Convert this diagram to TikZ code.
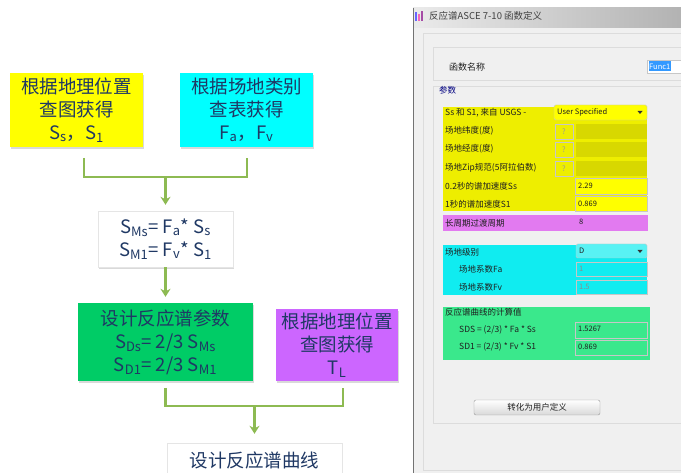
\documentclass[tikz,border=0pt]{standalone}
\usepackage{fontspec}
\setmainfont{Noto Sans CJK SC}
\usepackage{tikz}
\usetikzlibrary{positioning, arrows.meta, shadows}

\definecolor{navy}{RGB}{31,56,100}
\definecolor{linkgreen}{RGB}{141,186,82}
\definecolor{boxyellow}{RGB}{255,255,0}
\definecolor{boxcyan}{RGB}{0,255,255}
\definecolor{boxgreen}{RGB}{0,204,102}
\definecolor{boxpurple}{RGB}{204,102,255}
\definecolor{winbg}{RGB}{240,240,240}
\definecolor{winline}{RGB}{220,220,220}
\definecolor{panyellow}{RGB}{238,238,0}
\definecolor{fldyellow}{RGB}{216,216,0}
\definecolor{panpink}{RGB}{226,122,240}
\definecolor{pancyan}{RGB}{16,236,240}
\definecolor{pangreen}{RGB}{58,232,140}
\definecolor{selblue}{RGB}{51,153,255}

\begin{document}
\begin{tikzpicture}[
        x=1pt, y=-1pt,
        box/.style = {minimum width=133pt, minimum height=74pt, inner sep=2pt, align=center,
                      text=navy, font=\fontsize{18.5}{23}\selectfont,
                      drop shadow={shadow xshift=1.2pt, shadow yshift=-1.6pt, opacity=0.3}},
        link/.style = {draw=linkgreen, line width=2.4pt},
        flow/.style = {link, -{Stealth[length=8pt, width=10pt]}},
        dlgtext/.style = {anchor=west, inner sep=0pt, text=black!88, font=\fontsize{8.5}{9}\selectfont},
        valtext/.style = {dlgtext, font=\fontsize{7.5}{8}\selectfont},
        entry/.style = {draw=black!22, line width=0.4pt},
    ]
    \useasboundingbox (0,0) rectangle (681,473);

    % Flow chart boxes
    \node[box, fill=boxyellow] (ss) at (76.5,110) {根据地理位置\\查图获得\\S\textsubscript{s}，S\textsubscript{1}};
    \node[box, fill=boxcyan] (fa) at (246.5,110) {根据场地类别\\查表获得\\F\textsubscript{a}，F\textsubscript{v}};
    \node[box, fill=white, draw=black!10, minimum width=135pt, minimum height=56pt] (sm) at (165.5,239)
        {S\textsubscript{Ms}= F\textsubscript{a}* S\textsubscript{s}\\S\textsubscript{M1}= F\textsubscript{v}* S\textsubscript{1}};
    \node[box, fill=boxgreen, minimum width=175pt, minimum height=78pt] (sd) at (165.5,342)
        {设计反应谱参数\\S\textsubscript{Ds}= 2/3 S\textsubscript{Ms}\\S\textsubscript{D1}= 2/3 S\textsubscript{M1}};
    \node[box, fill=boxpurple, minimum width=122pt, minimum height=72pt] (tl) at (337,345) {根据地理位置\\查图获得\\T\textsubscript{L}};
    \node[box, fill=white, draw=black!10, minimum width=175pt, minimum height=34pt] (curve) at (254.5,460) {设计反应谱曲线};

    % Connectors
    \coordinate (ssout) at (84,158);
    \coordinate (faout) at (247,158);
    \coordinate (join1) at (165.5,177);
    \draw[link] (ssout) |- (join1) -| (faout);
    \draw[flow, shorten >=6pt] (join1) -- (sm.north);
    \draw[flow, shorten >=6pt] (sm.south) -- (sd.north);
    \coordinate (sdout) at (165.5,388);
    \coordinate (tlout) at (343,388);
    \coordinate (join2) at (254.5,406);
    \draw[link] (sdout) |- (join2) -| (tlout);
    \draw[flow, shorten >=9pt] (join2) -- (curve.north);

    % Dialog window frame
    \fill[winbg] (413,8) rectangle (681,473);
    \shade[left color=black!8, right color=black!30] (413,8) rectangle (681,28);
    \draw[black!55, line width=1.5pt] (413.5,8) -- (413.5,473);
    \draw[winline] (423,33) rectangle (690,470);
    \draw[winline] (433,47) rectangle (690,80);
    \draw[winline] (433,86) rectangle (690,423);
    \fill[blue!60] (415,12) rectangle (417,21);
    \fill[magenta!60] (418,14) rectangle (420,21);
    \fill[violet!70] (421,11) rectangle (423,21);
    \node[dlgtext, font=\fontsize{9.5}{10}\selectfont, text=black!75] (title) at (429,16) {反应谱ASCE 7-10 函数定义};

    % Function name
    \node[dlgtext, font=\fontsize{9}{10}\selectfont] (fname) at (449,67) {函数名称};
    \draw[entry, fill=white] (647,60) rectangle (690,73);
    \fill[selblue] (648.5,61.5) rectangle (671,71.5);
    \node[valtext, text=white] (func) at (649,66.5) {Func1};
    \node[dlgtext, text=blue!50!black] (param) at (439,90) {参数};

    % Spectral accelerations (yellow)
    \fill[panyellow] (443,107) rectangle (647,211);
    \draw[entry, fill=boxyellow, rounded corners=1.5pt] (554,105) rectangle (647,120);
    \node[valtext] (usgsv) at (557,112.5) {User Specified};
    \fill[black!80] (637.5,111) -- (642.5,111) -- (640,114) -- cycle;
    \foreach \y in {124,142,161} {
        \draw[entry, fill=panyellow] (555,\y) rectangle (573,\y+15);
        \node[valtext, text=black!40] (q\y) at (562,\y+7.5) {?};
        \fill[fldyellow] (576,\y) rectangle (647,\y+15);
    }
    \node[dlgtext] (usgs) at (445,113) {Ss 和 S1, 来自 USGS -};
    \node[dlgtext] (lat) at (445,131) {场地纬度(度)};
    \node[dlgtext] (lon) at (445,149) {场地经度(度)};
    \node[dlgtext] (zip) at (445,168) {场地Zip规范(5阿拉伯数)};
    \node[dlgtext] (ssl) at (445,186) {0.2秒的谱加速度Ss};
    \node[dlgtext] (s1l) at (445,204) {1秒的谱加速度S1};
    \draw[entry, fill=boxyellow] (575,178) rectangle (647,194);
    \draw[entry, fill=boxyellow] (575,196) rectangle (647,211);
    \node[valtext] (ssv) at (578,186) {2.29};
    \node[valtext] (s1v) at (578,204) {0.869};

    % Long period (magenta)
    \fill[panpink] (443,215) rectangle (648,231);
    \node[dlgtext] (tll) at (445,223) {长周期过渡周期};
    \node[valtext] (tlv) at (579,222) {8};

    % Site class (cyan)
    \fill[pancyan] (443,245) rectangle (647,295);
    \draw[entry, fill=pancyan!70!white, rounded corners=1.5pt] (576,244) rectangle (647,258);
    \node[dlgtext] (site) at (445,252) {场地级别};
    \node[valtext] (sitev) at (579,251) {D};
    \fill[black!80] (637.5,250) -- (642.5,250) -- (640,253) -- cycle;
    \draw[entry, fill=pancyan] (576,262) rectangle (647,276);
    \draw[entry, fill=pancyan] (576,280) rectangle (647,294);
    \node[dlgtext] (fal) at (459,269) {场地系数Fa};
    \node[dlgtext] (fvl) at (459,287) {场地系数Fv};
    \node[valtext, text=black!45] (fav) at (579,269) {1};
    \node[valtext, text=black!45] (fvv) at (579,287) {1.5};

    % Design values (green)
    \fill[pangreen] (443,307) rectangle (650,360);
    \draw[entry, fill=pangreen] (575,322) rectangle (647,338);
    \draw[entry, fill=pangreen] (575,340) rectangle (647,355);
    \node[dlgtext] (calc) at (445,312) {反应谱曲线的计算值};
    \node[dlgtext] (sdsl) at (459,330) {SDS = (2/3) * Fa * Ss};
    \node[dlgtext] (sd1l) at (459,347) {SD1 = (2/3) * Fv * S1};
    \node[valtext] (sdsv) at (578,329) {1.5267};
    \node[valtext] (sd1v) at (578,347) {0.869};

    % Button
    \shadedraw[top color=white, bottom color=black!15, draw=black!40, rounded corners=2pt] (474,400) rectangle (600,415);
    \node[dlgtext, anchor=center] (convert) at (537,407.5) {转化为用户定义};
\end{tikzpicture}
\end{document}
